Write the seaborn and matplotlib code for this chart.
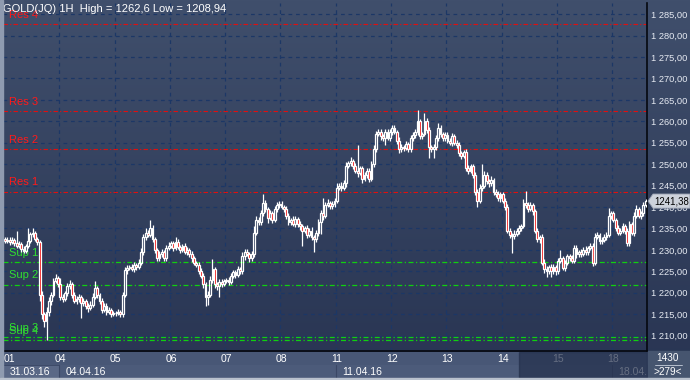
import numpy as np
import pandas as pd
import matplotlib
matplotlib.use("Agg")
import matplotlib.pyplot as plt
import matplotlib.transforms as mtransforms
from matplotlib.patches import Rectangle, Polygon
from matplotlib.ticker import FuncFormatter
import seaborn as sns


# ---- data (GOLD(JQ), 1H candles) ----
DAYS = ["01", "04", "05", "06", "07", "08", "11", "12", "13", "14", "15", "18"]
WEEKS = ["31.03.16", "04.04.16", "11.04.16", "18.04.16"]
WEEK_START_DAY = [0, 1, 6, 11]

FIRST_OPEN = 1232.5

d01 = [1232.0, 1232.4, 1231.8, 1232.3, 1231.6, 1231.0, 1231.4, 1230.2, 1229.8, 1230.8, 1232.0, 1233.6,
       1234.0, 1232.6, 1231.8, 1219.5, 1215.0, 1213.5, 1215.5, 1218.0, 1219.5, 1222.8, 1223.5, 1222.0]
d04 = [1219.0, 1218.5, 1220.0, 1221.5, 1222.0, 1219.5, 1218.0, 1218.5, 1219.0, 1217.5, 1218.0, 1217.0,
       1216.5, 1217.2, 1219.0, 1221.0, 1219.5, 1218.0, 1216.0, 1217.0, 1215.5, 1216.0, 1215.0, 1215.3]
d05 = [1215.2, 1215.6, 1215.0, 1219.5, 1225.2, 1225.8, 1226.0, 1225.5, 1226.5, 1226.0, 1227.0, 1229.5,
       1233.0, 1234.0, 1233.5, 1235.0, 1232.5, 1230.0, 1228.0, 1229.0, 1229.5, 1228.0, 1230.5, 1231.0]
d06 = [1231.5, 1230.5, 1231.8, 1230.6, 1230.0, 1230.8, 1229.5, 1230.0, 1229.0, 1228.0, 1227.0, 1226.5,
       1225.0, 1224.0, 1222.0, 1219.0, 1219.5, 1223.0, 1225.5, 1222.0, 1221.5, 1222.5, 1222.0, 1222.8]
d07 = [1223.0, 1222.5, 1224.0, 1224.8, 1224.2, 1225.5, 1225.0, 1228.5, 1229.5, 1229.0, 1228.0, 1229.0,
       1234.0, 1237.0, 1236.5, 1238.5, 1241.0, 1239.5, 1237.5, 1238.5, 1237.0, 1239.5, 1240.5, 1240.8]
d08 = [1240.0, 1239.5, 1238.0, 1236.5, 1237.0, 1236.0, 1237.2, 1236.0, 1235.5, 1234.5, 1235.0, 1233.5,
       1234.5, 1233.0, 1232.5, 1234.0, 1236.5, 1238.5, 1238.0, 1240.5, 1241.0, 1240.2, 1240.8, 1241.5]
d11 = [1244.5, 1245.0, 1244.5, 1245.5, 1249.5, 1250.2, 1250.8, 1249.5, 1248.5, 1248.0, 1249.0, 1246.5,
       1247.5, 1248.5, 1246.5, 1250.0, 1253.5, 1257.0, 1257.5, 1256.5, 1256.0, 1257.5, 1256.2, 1257.5]
d12 = [1258.5, 1257.5, 1255.5, 1253.5, 1254.0, 1253.8, 1254.6, 1253.5, 1256.0, 1256.8, 1257.5, 1260.0,
       1256.5, 1257.0, 1260.0, 1258.0, 1254.0, 1253.5, 1254.0, 1256.0, 1258.5, 1257.0, 1256.0, 1256.8]
d13 = [1255.5, 1255.0, 1256.5, 1255.0, 1254.5, 1252.5, 1252.0, 1252.8, 1249.0, 1248.5, 1249.5, 1247.5,
       1243.5, 1241.5, 1244.5, 1245.0, 1247.5, 1246.0, 1245.5, 1246.3, 1243.5, 1243.0, 1242.0, 1243.0]
d14 = [1241.5, 1240.0, 1234.5, 1233.5, 1233.2, 1233.8, 1234.5, 1235.0, 1235.5, 1241.0, 1240.5, 1239.5,
       1240.5, 1239.0, 1234.5, 1232.5, 1233.0, 1227.0, 1225.5, 1225.0, 1226.0, 1225.0, 1226.0, 1225.0]
d15 = [1227.5, 1228.0, 1225.8, 1227.0, 1228.5, 1228.0, 1227.5, 1230.5, 1229.0, 1229.5, 1229.0, 1230.0,
       1229.5, 1230.5, 1231.0, 1227.0, 1233.0, 1233.5, 1232.0, 1232.3, 1233.0, 1233.5, 1238.0, 1238.5]
d18 = [1237.0, 1235.0, 1234.0, 1234.5, 1235.5, 1234.5, 1231.5, 1236.0, 1234.0, 1238.0, 1239.5, 1238.0,
       1238.5, 1240.5, 1241.38]

# wick lengths above / below the candle body
up01 = [0.4, 0.6, 0.5, 0.8, 0.5, 2.9, 0.6, 0.4, 0.7, 0.5, 3.0, 0.6, 1.0, 0.5, 0.4, 0.6, 0.8, 0.5, 1.2, 0.9, 0.6, 0.7, 0.8, 0.5]
dn01 = [0.5, 0.4, 0.6, 0.5, 0.7, 0.5, 0.6, 0.8, 0.5, 0.6, 0.4, 0.5, 0.6, 0.5, 0.7, 1.5, 1.2, 1.5, 4.6, 1.0, 0.8, 0.6, 0.5, 0.7]
up04 = [1.5, 0.6, 0.5, 0.7, 1.0, 0.5, 0.6, 0.8, 0.6, 0.5, 0.7, 0.5, 0.6, 0.8, 0.9, 1.8, 0.6, 0.5, 0.7, 0.6, 0.5, 0.6, 0.4, 0.5]
dn04 = [0.8, 0.6, 0.5, 0.7, 0.6, 0.8, 0.5, 0.6, 0.7, 3.3, 0.6, 0.8, 0.9, 0.5, 0.6, 0.5, 0.7, 0.6, 0.8, 0.5, 0.6, 0.5, 0.7, 0.5]
up05 = [0.5, 0.6, 0.4, 0.7, 0.8, 0.6, 0.5, 0.7, 0.6, 0.5, 0.8, 0.9, 0.7, 1.0, 0.6, 2.0, 0.7, 0.6, 0.5, 0.8, 0.6, 0.5, 0.7, 0.9]
dn05 = [0.6, 0.5, 0.7, 0.6, 0.5, 0.8, 0.6, 0.5, 0.7, 0.6, 0.5, 0.6, 0.8, 0.7, 0.6, 0.5, 0.6, 0.8, 0.7, 0.5, 0.6, 0.7, 0.5, 0.6]
up06 = [0.6, 0.5, 1.2, 0.7, 0.5, 0.6, 0.8, 0.6, 0.5, 0.7, 0.6, 0.5, 0.6, 0.7, 0.5, 0.6, 0.8, 0.9, 2.3, 0.6, 0.5, 0.7, 0.6, 0.5]
dn06 = [0.5, 0.7, 0.6, 0.5, 0.8, 0.6, 0.5, 0.7, 0.6, 0.8, 0.5, 0.6, 0.7, 0.6, 0.9, 2.0, 1.8, 0.6, 0.7, 1.0, 0.8, 2.6, 0.6, 0.5]
up07 = [0.5, 0.6, 0.7, 0.5, 0.6, 0.8, 0.5, 0.9, 0.7, 0.6, 0.5, 0.7, 1.5, 1.0, 0.6, 0.8, 2.0, 0.7, 0.6, 0.8, 0.5, 0.7, 0.6, 0.5]
dn07 = [0.6, 0.7, 0.5, 0.6, 0.8, 0.5, 0.7, 0.6, 0.8, 0.5, 0.9, 0.6, 0.7, 0.5, 0.8, 0.6, 0.5, 0.7, 1.2, 0.6, 0.8, 0.5, 0.6, 0.7]
up08 = [0.6, 0.5, 0.7, 0.6, 0.5, 0.8, 0.6, 0.5, 0.7, 0.6, 0.5, 0.7, 0.6, 0.8, 0.5, 0.6, 0.7, 0.9, 3.5, 0.6, 0.8, 0.5, 0.7, 0.6]
dn08 = [0.5, 0.6, 0.8, 0.7, 0.6, 0.5, 0.7, 0.6, 0.8, 3.5, 0.6, 0.7, 0.5, 0.8, 3.0, 0.6, 0.7, 2.7, 1.0, 0.6, 0.5, 0.7, 0.6, 0.8]
up11 = [1.2, 0.6, 0.8, 0.7, 1.0, 0.6, 0.8, 0.5, 0.7, 5.9, 0.6, 0.5, 0.7, 0.6, 0.5, 0.8, 0.9, 0.7, 0.6, 0.8, 0.5, 0.7, 0.6, 0.8]
dn11 = [0.6, 0.5, 0.7, 0.6, 0.8, 0.5, 0.6, 0.7, 0.5, 1.0, 0.6, 0.8, 0.5, 0.7, 0.6, 0.5, 0.7, 0.6, 0.5, 0.8, 0.6, 1.6, 0.5, 0.7]
up12 = [0.7, 0.6, 0.5, 0.8, 0.6, 0.5, 0.7, 0.6, 0.9, 0.7, 0.8, 2.6, 0.6, 0.5, 2.0, 0.7, 0.6, 0.5, 0.8, 0.7, 1.2, 0.6, 0.5, 0.7]
dn12 = [0.6, 0.5, 0.7, 0.8, 0.6, 0.7, 0.5, 0.6, 0.7, 0.5, 0.6, 0.8, 0.7, 0.6, 0.5, 0.8, 2.6, 0.7, 2.0, 0.6, 0.5, 0.7, 0.6, 0.5]
up13 = [0.6, 0.7, 0.8, 0.5, 0.6, 0.7, 0.5, 0.6, 0.8, 0.7, 0.6, 0.5, 0.7, 0.6, 0.9, 5.0, 0.8, 0.7, 0.6, 0.9, 0.5, 0.6, 0.7, 0.5]
dn13 = [0.5, 0.6, 0.7, 0.6, 0.8, 0.5, 0.7, 0.6, 0.5, 0.7, 0.6, 0.8, 0.7, 1.5, 0.6, 0.7, 0.5, 0.6, 0.8, 0.5, 0.7, 0.6, 0.5, 0.8]
up14 = [0.6, 0.5, 0.7, 0.6, 0.5, 0.8, 0.6, 0.7, 0.5, 0.9, 2.8, 0.6, 0.7, 0.5, 0.6, 0.7, 0.5, 0.6, 0.8, 0.7, 0.5, 0.6, 0.7, 0.5]
dn14 = [0.5, 0.7, 0.6, 0.8, 4.0, 0.6, 0.5, 0.7, 0.6, 0.5, 0.7, 0.6, 0.5, 0.8, 0.6, 0.7, 0.9, 0.6, 0.8, 1.4, 0.7, 1.4, 0.6, 0.8]
up15 = [0.6, 1.9, 0.5, 0.7, 0.6, 0.5, 0.8, 0.7, 0.6, 0.5, 0.7, 0.6, 0.8, 0.5, 0.7, 0.6, 0.9, 0.7, 0.5, 0.6, 0.8, 0.7, 1.7, 0.6]
dn15 = [0.7, 0.5, 0.6, 0.8, 0.5, 0.7, 0.6, 0.5, 0.8, 0.6, 0.7, 0.5, 0.6, 0.8, 0.5, 0.7, 0.6, 0.5, 0.7, 0.6, 0.5, 0.8, 0.6, 0.7]
up18 = [0.6, 0.5, 0.7, 0.6, 0.8, 0.5, 0.6, 0.7, 0.5, 0.8, 0.9, 0.6, 0.5, 0.7, 0.4]
dn18 = [0.5, 0.7, 0.6, 0.5, 0.6, 0.8, 0.7, 0.5, 0.6, 0.7, 0.5, 0.6, 0.8, 0.5, 0.6]

RES_LABELS = ["Res 1", "Res 2", "Res 3", "Res 4"]
RES_LEVELS = [1243.6, 1253.5, 1262.3, 1282.7]
SUP_LABELS = ["Sup 1", "Sup 2", "Sup 3", "Sup 4"]
SUP_LEVELS = [1227.1, 1221.9, 1209.6, 1208.9]

TITLE = "GOLD(JQ) 1H  High = 1262,6 Low = 1208,94"
BAR_COUNT = "1430"
VISIBLE = ">279<"

# ---- build candle table ----
closes = np.concatenate([d01, d04, d05, d06, d07, d08, d11, d12, d13, d14, d15, d18])
up = np.concatenate([up01, up04, up05, up06, up07, up08, up11, up12, up13, up14, up15, up18])
dn = np.concatenate([dn01, dn04, dn05, dn06, dn07, dn08, dn11, dn12, dn13, dn14, dn15, dn18])
opens = np.r_[FIRST_OPEN, closes[:-1]]

df = pd.DataFrame({"open": opens, "close": closes})
df["i"] = np.arange(len(df))
df["top"] = df[["open", "close"]].max(axis=1)
df["bot"] = df[["open", "close"]].min(axis=1)
df["high"] = df["top"] + up
df["low"] = df["bot"] - dn
df["bull"] = df["close"] >= df["open"]
last_close = closes[-1]
day_starts = [24 * k for k in range(len(DAYS))]

# ---- style ----
sns.set_theme(style="dark")
plt.rcParams["font.family"] = ["Liberation Sans", "DejaVu Sans"]

W, H = 690, 380
fig = plt.figure(figsize=(W / 100, H / 100), dpi=100)

# background gradient over whole window
bg = fig.add_axes([0, 0, 1, 1])
grad = np.linspace(0, 1, 256).reshape(-1, 1)
top_c = np.array([64, 79, 108]) / 255
bot_c = np.array([40, 52, 82]) / 255
img = top_c + (bot_c - top_c) * grad[..., None]
bg.imshow(img.reshape(256, 1, 3), aspect="auto", extent=[0, 1, 0, 1])
bg.set_axis_off()


def px(x0, y0, w, h):
    return [x0 / W, 1 - (y0 + h) / H, w / W, h / H]


ax = fig.add_axes(px(3, 3, 644, 348))
ax.set_facecolor("none")
xmin, xmax = -0.9, len(df) - 0.4
ax.set_xlim(xmin, xmax)
ax.set_ylim(1206.4, 1287.6)

# grid
ax.set_yticks(np.arange(1210, 1286, 5))
ax.set_xticks([s - 0.5 for s in day_starts[1:]])
ax.grid(True, color="#1c3766", linestyle=(0, (3, 3)), linewidth=0.9)
ax.tick_params(axis="x", length=0, labelbottom=False)
ax.yaxis.tick_right()
ax.yaxis.set_major_formatter(FuncFormatter(lambda v, p: f"{v:,.2f}".replace(",", " ").replace(".", ",")))
ax.tick_params(axis="y", length=0, pad=3, labelsize=6.7, labelcolor="#e6eaf2")
for s in ["top", "left"]:
    ax.spines[s].set_visible(False)
ax.spines["right"].set_color("#05080f")
ax.spines["bottom"].set_color("#05080f")
ax.spines["right"].set_linewidth(1.2)
ax.spines["bottom"].set_linewidth(1.2)

# support / resistance levels
for lab, lvl in zip(RES_LABELS, RES_LEVELS):
    ax.axhline(lvl, color="#e01010", lw=0.8, linestyle=(0, (4, 2, 1, 2)), zorder=2)
    ax.text(1.5, lvl + 1.0, lab, color="#ff1a1a", fontsize=8, va="bottom", ha="left", zorder=2)
for lab, lvl in zip(SUP_LABELS, SUP_LEVELS):
    ax.axhline(lvl, color="#10d010", lw=0.9, linestyle=(0, (4, 2, 1, 2)), zorder=2)
    ax.text(1.5, lvl + 1.0, lab, color="#30e030", fontsize=8, va="bottom", ha="left", zorder=2)

# candles: wicks then bodies (hollow bull, red bear)
ax.vlines(df["i"], df["top"], df["high"], color="white", lw=0.9, zorder=3)
ax.vlines(df["i"], df["low"], df["bot"], color="white", lw=0.9, zorder=3)
body_h = (df["top"] - df["bot"]).clip(lower=0.12)
ax.bar(df["i"], body_h, bottom=df["bot"], width=0.8,
       color=np.where(df["bull"], "none", "#ee0000"), edgecolor="white", linewidth=0.9, zorder=4)

ax.text(0.0, 1286.1, TITLE, color="white", fontsize=8, ha="left", va="center", zorder=6,
        transform=mtransforms.blended_transform_factory(ax.transAxes, ax.transData))

# last price marker on the right scale
tr = mtransforms.blended_transform_factory(fig.transFigure, ax.transData)
dh = 1.65
marker = Polygon([[648 / W, last_close], [653 / W, last_close + dh], [1.0, last_close + dh],
                  [1.0, last_close - dh], [653 / W, last_close - dh]],
                 closed=True, transform=tr, facecolor="#cdd2db", edgecolor="#9aa2b2", lw=0.6, zorder=5)
fig.add_artist(marker)
fig.text(654 / W, last_close, f"{last_close:.2f}".replace(".", ","), transform=tr, fontsize=6.9,
         color="black", va="center", ha="left", zorder=6)

# ---- bottom time strip ----
bx = fig.add_axes(px(3, 352, 644, 26))
bx.set_xlim(xmin, xmax)
bx.set_ylim(0, 2)
bx.set_axis_off()
bx.add_patch(Rectangle((xmin, 1), xmax - xmin, 1, color="#485776", zorder=0))
bx.add_patch(Rectangle((xmin, 0), xmax - xmin, 1, color="#4c5b7a", zorder=0))
bx.add_patch(Rectangle((xmin, 0.02), day_starts[1] - 0.5 - xmin, 0.96, facecolor="#5a6886",
                       edgecolor="#3a4765", lw=0.6, zorder=1))
for k, d in enumerate(DAYS):
    x = day_starts[k]
    if k == 0:
        bx.text(xmin + 0.2, 1.5, d, color="white", fontsize=7.5, ha="left", va="center", zorder=2)
    else:
        bx.text(x, 1.5, d, color="white", fontsize=7.5, ha="center", va="center", zorder=2)
for w, k in zip(WEEKS, WEEK_START_DAY):
    x = day_starts[k] - 0.5
    if k:
        bx.plot([x, x], [0, 1], color="#3a4765", lw=0.8, zorder=2)
    bx.text(x + 2.6, 0.48, w, color="white", fontsize=7.5, ha="left", va="center", zorder=2, clip_on=True)
# shaded tail of the strip
shade_x = (520 - 5) / 2.31
bx.add_patch(Rectangle((shade_x, 0), xmax - shade_x, 2, color="#24304c", alpha=0.7, zorder=3))

# bar count box bottom right
fig.add_artist(Rectangle((648 / W, 2 / H), 42 / W, 27 / H, transform=fig.transFigure,
                         color="#46556f", zorder=1))
fig.text(668 / W, 1 - 358 / H, BAR_COUNT, color="white", fontsize=7.2, ha="center", va="center")
fig.add_artist(plt.Line2D([655 / W, 682 / W], [1 - 365 / H, 1 - 365 / H], color="#c8cfdc", lw=0.6))
fig.text(668 / W, 1 - 372 / H, VISIBLE, color="white", fontsize=7.2, ha="center", va="center")

# window frame
fig.add_artist(Rectangle((0, 0), 2.5 / W, 1, transform=fig.transFigure, color="#8f9bb0", zorder=7))
fig.add_artist(Rectangle((0, 0), 1, 2 / H, transform=fig.transFigure, color="#b9c1cd", zorder=7))

fig.savefig("out.png", dpi=100)
plt.close(fig)
